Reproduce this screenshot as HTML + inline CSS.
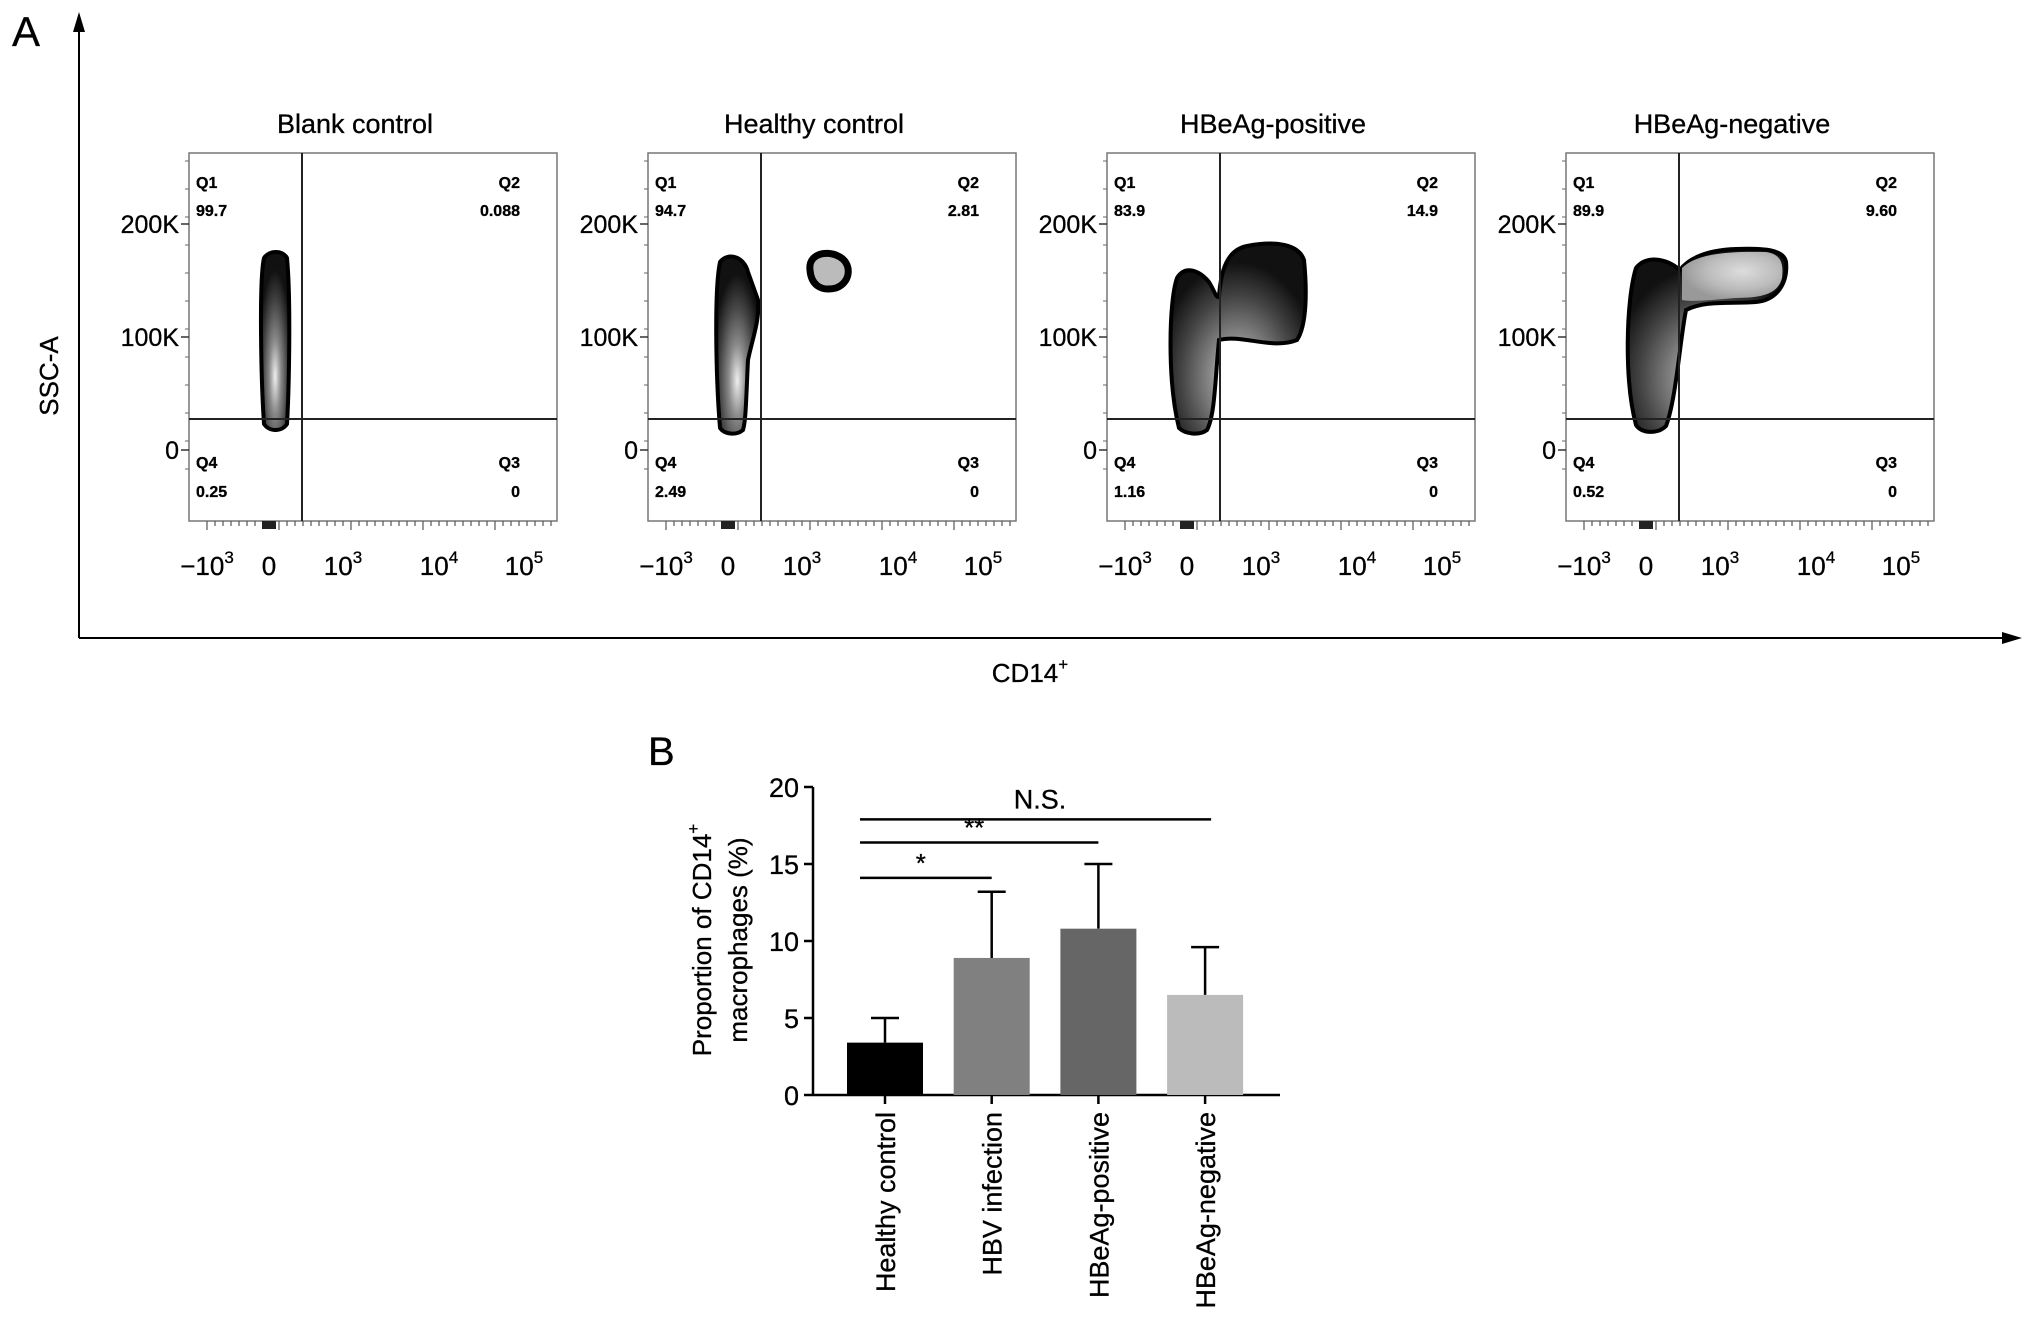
<!DOCTYPE html>
<html><head><meta charset="utf-8">
<style>
html,body{margin:0;padding:0;background:#fff;}
svg{display:block;font-family:"Liberation Sans",Arial,sans-serif;}
text{stroke:#000;stroke-width:0.3;}
</style></head>
<body>
<svg id="fig" width="2032" height="1337" viewBox="0 0 2032 1337" xmlns="http://www.w3.org/2000/svg">
<defs>
<radialGradient id="gL" cx="50%" cy="70%" r="60%">
<stop offset="0" stop-color="#eee"/><stop offset="0.35" stop-color="#888"/><stop offset="0.7" stop-color="#444"/><stop offset="1" stop-color="#111"/>
</radialGradient>
<radialGradient id="gR4" cx="60%" cy="40%" r="60%">
<stop offset="0" stop-color="#ddd"/><stop offset="0.6" stop-color="#bbb"/><stop offset="1" stop-color="#999"/>
</radialGradient>
<marker id="arr" markerWidth="10" markerHeight="10" refX="5" refY="5" orient="auto"><path d="M0,2 L10,5 L0,8 z" fill="#000"/></marker>
</defs>
<g id="panelA"></g>
<g id="panelB"></g>
</svg>
<script>
const NS="http://www.w3.org/2000/svg";
// ---- Panel A data ----
const plotTitles=["Blank control","Healthy control","HBeAg-positive","HBeAg-negative"];
const q1Values=["99.7","94.7","83.9","89.9"];
const q2Values=["0.088","2.81","14.9","9.60"];
const q3Values=["0","0","0","0"];
const q4Values=["0.25","2.49","1.16","0.52"];
const yTickLabels=["200K","100K","0"];
const yTickValues=[200,100,0];
// ---- Panel B data ----
const categories=["Healthy control","HBV infection","HBeAg-positive","HBeAg-negative"];
const barValues=[3.4,8.9,10.8,6.5];
const errValues=[1.6,4.3,4.2,3.1];
const barTickValues=[0,5,10,15,20];

function mk(parent,tag,attrs,text){const e=document.createElementNS(NS,tag);for(const k in attrs)e.setAttribute(k,attrs[k]);if(text!==undefined)e.textContent=text;parent.appendChild(e);return e;}

const A=document.getElementById('panelA');
let t=mk(A,'text',{x:12,y:46,'font-size':42},'A');


let l=mk(A,'line',{x1:79,y1:638,x2:79,y2:22,stroke:'#000','stroke-width':2,'marker-end':'url(#arr)'});


l=mk(A,'line',{x1:79,y1:638,x2:2012,y2:638,stroke:'#000','stroke-width':2,'marker-end':'url(#arr)'});


t=mk(A,'text',{x:58,y:376,'font-size':26,'text-anchor':'middle',transform:'rotate(-90 58 376)'},'SSC-A');


t=mk(A,'text',{x:1030,y:682,'font-size':26,'text-anchor':'middle'});


t.innerHTML='CD14<tspan dy="-12" font-size="17">+</tspan>';

const boxW=368, boxTop=153, boxBot=521;
const yScale=v=>450-v*1.13;
const blobs=[
 [{d:"M75,424 C72,380 70,280 75,258 C80,250 94,250 98,258 C102,300 100,390 98,424 C93,432 80,432 75,424 Z",f:"url(#gL)"}],
 [{d:"M72,428 C68,380 66,290 72,262 C80,252 96,256 100,272 L110,300 C112,320 104,340 100,360 C98,400 98,420 95,430 C88,436 76,434 72,428 Z",f:"url(#gL)"},
  {d:"M162,270 C160,254 178,250 190,256 C204,262 204,282 188,288 C172,292 163,284 162,270 Z",f:"#bbb",sw:7}],
 [{d:"M72,428 C60,380 62,300 70,278 C78,265 92,270 102,282 C108,292 110,300 112,296 C114,270 120,250 140,246 C170,240 192,245 197,260 C200,290 200,325 190,340 C165,350 135,334 112,340 C108,380 108,415 100,430 C92,436 78,434 72,428 Z",f:"url(#gL)"}],
 [{d:"M70,425 C58,380 60,300 70,268 C80,255 100,258 114,270 C120,262 135,250 170,249 C200,248 218,250 220,262 C222,282 212,300 190,302 C165,304 140,300 120,310 C114,340 110,400 100,426 C92,434 76,434 70,425 Z",f:"url(#gL)"},
  {d:"M116,268 C130,254 160,251 200,252 C214,254 218,262 216,278 C212,294 196,298 170,298 C145,300 125,302 116,300 Z",f:"url(#gR4)",sw:0}]
];
const xTickLab=[["−10","3",18],["0","",80],["10","3",154],["10","4",250],["10","5",335]];

for(let i=0;i<4;i++){
  const X=189+459*i;
  const g=mk(A,'g',{});
  
  
  t=mk(g,'text',{x:X+166,y:133,'font-size':27,'text-anchor':'middle'},plotTitles[i]);
  
  
  const r=mk(g,'rect',{x:X,y:boxTop,width:boxW,height:boxBot-boxTop,fill:'none',stroke:'#777','stroke-width':1.5});
  
  
  blobs[i].forEach(b=>{const p=mk(g,'path',{d:b.d,fill:b.f,stroke:'#000','stroke-width':b.sw!==undefined?b.sw:4,transform:`translate(${X},0)`});
    
    });
  l=mk(g,'line',{x1:X+113,y1:boxTop,x2:X+113,y2:boxBot,stroke:'#222','stroke-width':2});
  
  
  l=mk(g,'line',{x1:X,y1:419,x2:X+boxW,y2:419,stroke:'#222','stroke-width':2});
  
  
  yTickValues.forEach((v,k)=>{const y=yScale(v);
    mk(g,'line',{x1:X-8,y1:y,x2:X,y2:y,stroke:'#333','stroke-width':1.5});
    t=mk(g,'text',{x:X-10,y:y+9,'font-size':25,'text-anchor':'end'},yTickLabels[k]);
    
    });
  for(let m=0;m<12;m++){const y=boxTop+8+m*28;mk(g,'line',{x1:X-4,y1:y,x2:X,y2:y,stroke:'#666','stroke-width':1});}
  for(let m=0;m<44;m++){const x=X+18+m*8;mk(g,'line',{x1:x,y1:boxBot,x2:x,y2:boxBot+(m%9==0?9:5),stroke:'#555','stroke-width':1.2});}
  mk(g,'rect',{x:X+73,y:boxBot,width:14,height:8,fill:'#222'});
  xTickLab.forEach(a=>{t=mk(g,'text',{x:X+a[2],y:575,'font-size':26,'text-anchor':'middle'});
    
    
    t.innerHTML=a[0]+(a[1]?`<tspan dy="-12" font-size="17">${a[1]}</tspan>`:'');});
  const q=[["Q1",q1Values[i],X+7,"start",188,216],["Q2",q2Values[i],X+331,"end",188,216],["Q4",q4Values[i],X+7,"start",468,497],["Q3",q3Values[i],X+331,"end",468,497]];
  q.forEach(a=>{t=mk(g,'text',{x:a[2],y:a[4],'font-size':16,'font-weight':'bold','text-anchor':a[3]},a[0]);
    
    
    t=mk(g,'text',{x:a[2],y:a[5],'font-size':16,'font-weight':'bold','text-anchor':a[3]},a[1]);
    
    });
}

// ---- Panel B ----
const B=document.getElementById('panelB');
const y0=1095, pxPer=15.4, xAx=813;
const yB=v=>y0-v*pxPer;
const barCenters=i=>885+i*106.7;
const barColors=["#000","#808080","#666","#bbb"];
t=mk(B,'text',{x:648,y:765,'font-size':40},'B');


l=mk(B,'line',{x1:xAx,y1:yB(20),x2:xAx,y2:y0,stroke:'#000','stroke-width':2.5});


l=mk(B,'line',{x1:xAx,y1:y0,x2:1280,y2:y0,stroke:'#000','stroke-width':2.5});


barTickValues.forEach(v=>{mk(B,'line',{x1:xAx-9,y1:yB(v),x2:xAx,y2:yB(v),stroke:'#000','stroke-width':2.5});
  t=mk(B,'text',{x:xAx-14,y:yB(v)+10,'font-size':27,'text-anchor':'end'},String(v));
  
  });
barValues.forEach((v,i)=>{const c=barCenters(i);
  l=mk(B,'line',{x1:c,y1:yB(v),x2:c,y2:yB(v+errValues[i]),stroke:'#000','stroke-width':2.5});
  
  
  mk(B,'line',{x1:c-14,y1:yB(v+errValues[i]),x2:c+14,y2:yB(v+errValues[i]),stroke:'#000','stroke-width':2.5});
  const r=mk(B,'rect',{x:c-38,y:yB(v),width:76,height:v*pxPer,fill:barColors[i]});
  
  
  mk(B,'line',{x1:c,y1:y0,x2:c,y2:y0+9,stroke:'#000','stroke-width':2.5});
  t=mk(B,'text',{x:c+10,y:1112,'font-size':27,'text-anchor':'end',transform:`rotate(-90 ${c+10} 1112)`},categories[i]);
  
  
});
const sig=[[14.1,1,"*"],[16.4,2,"**"],[17.9,3,"N.S."]];
sig.forEach(s=>{const y=yB(s[0]);const x2=barCenters(s[1])+(s[1]==3?6:0);
  l=mk(B,'line',{x1:860,y1:y,x2:x2,y2:y,stroke:'#000','stroke-width':2.5});
  
  
  const txt=s[2]=="N.S."?{x:1040,y:yB(18.6),fs:27}:{x:(860+x2)/2-5,y:y-6,fs:26};
  t=mk(B,'text',{x:txt.x,y:txt.y,'font-size':txt.fs,'text-anchor':'middle'},s[2]);
  
  
});
t=mk(B,'text',{x:711,y:940,'font-size':26,'text-anchor':'middle',transform:'rotate(-90 711 940)'});


t.innerHTML='Proportion of CD14<tspan dy="-12" font-size="17">+</tspan>';
t=mk(B,'text',{x:747,y:940,'font-size':26,'text-anchor':'middle',transform:'rotate(-90 747 940)'},'macrophages (%)');


</script>
</body></html>
